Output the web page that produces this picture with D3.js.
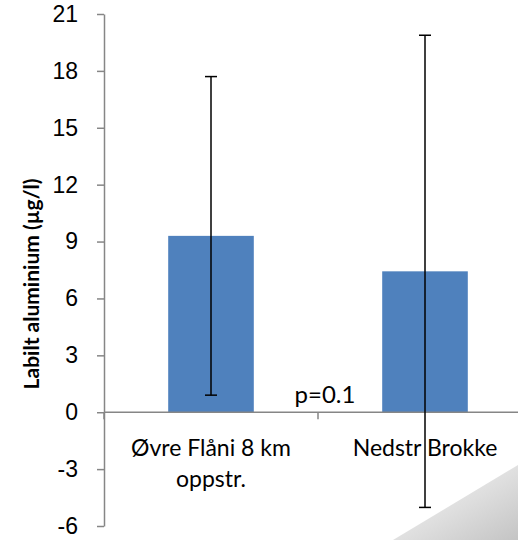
<!doctype html>
<html lang="no">
<head>
<meta charset="utf-8" />
<title>Labilt aluminium</title>
<script src="https://cdn.jsdelivr.net/npm/d3@7/dist/d3.min.js"></script>
<style>
	body { margin: 0; background: #fff; }
	svg { display: block; font-family: Lato, "Open Sans", sans-serif; }
</style>
</head>
<body>
<svg width="518" height="540"></svg>
<script>
	// data
	var categories = [["Øvre Flåni 8 km", "oppstr."], ["Nedstr Brokke"]];
	var means = [9.3, 7.43];
	var errors = [8.4, 12.45];
	var yTicks = [-6, -3, 0, 3, 6, 9, 12, 15, 18, 21];
	var yTitle = "Labilt aluminium (µg/l)";
	var pText = "p=0.1";

	var svg = d3.select("svg");
	var axisColor = "#868686";

	var x = d3.scaleBand()
		.domain(d3.range(categories.length))
		.range([104, 532])
		.padding(0);

	var y = d3.scaleLinear()
		.domain([-6, 21])
		.range([526, 14]);

	var barW = x.bandwidth() * 0.4;

	// page curl shadow, bottom right
	var defs = svg.append("defs");
	var grad = defs.append("linearGradient")
		.attr("id", "curl")
		.attr("x1", "0").attr("y1", "0")
		.attr("x2", "1").attr("y2", "1");
	grad.append("stop").attr("offset", "0").attr("stop-color", "#fafafa");
	grad.append("stop").attr("offset", "0.55").attr("stop-color", "#dedede");
	grad.append("stop").attr("offset", "1").attr("stop-color", "#c4c4c4");

	// bars
	svg.selectAll("rect.bar")
		.data(means)
		.enter().append("rect")
		.attr("class", "bar")
		.attr("x", function (d, i) { return x(i) + (x.bandwidth() - barW) / 2; })
		.attr("width", barW)
		.attr("y", function (d) { return y(Math.max(0, d)); })
		.attr("height", function (d) { return Math.abs(y(d) - y(0)); })
		.style("fill", "#4f81bd");

	// y axis
	var yAxis = d3.axisLeft(y)
		.tickValues(yTicks)
		.tickFormat(function (d) { return String(d); })
		.tickSize(7)
		.tickSizeOuter(0);
	var gy = svg.append("g")
		.attr("transform", "translate(" + x.range()[0] + ",0)")
		.call(yAxis);
	gy.select(".domain").attr("stroke", axisColor).attr("stroke-width", 1.5);
	gy.selectAll(".tick line").attr("stroke", axisColor).attr("stroke-width", 1.5);
	gy.selectAll(".tick text")
		.attr("x", -26)
		.style("font-size", "23px")
		.style("fill", "#000");

	// x axis at zero
	var gx = svg.append("g").attr("transform", "translate(0," + y(0) + ")");
	gx.append("line")
		.attr("x1", x.range()[0]).attr("x2", x.range()[1])
		.attr("stroke", axisColor).attr("stroke-width", 1.5);
	gx.selectAll("line.tk")
		.data(d3.range(categories.length + 1))
		.enter().append("line")
		.attr("class", "tk")
		.attr("x1", function (d) { return x.range()[0] + d * x.step(); })
		.attr("x2", function (d) { return x.range()[0] + d * x.step(); })
		.attr("y1", 0).attr("y2", 7)
		.attr("stroke", axisColor).attr("stroke-width", 1.5);

	// category labels
	categories.forEach(function (lines, i) {
		var t = svg.append("text")
			.attr("text-anchor", "middle")
			.style("font-size", "23px")
			.attr("x", x(i) + x.bandwidth() / 2)
			.attr("y", y(0) + 44);
		lines.forEach(function (s, j) {
			t.append("tspan")
				.attr("x", x(i) + x.bandwidth() / 2)
				.attr("dy", j === 0 ? 0 : 31)
				.text(s);
		});
	});

	// p label
	svg.append("text")
		.attr("x", x.range()[0] + x.step() + 7)
		.attr("y", y(0) - 9)
		.attr("text-anchor", "middle")
		.style("font-size", "24px")
		.text(pText);

	// error bars
	var eb = svg.selectAll("g.err")
		.data(means)
		.enter().append("g")
		.attr("class", "err")
		.attr("transform", function (d, i) { return "translate(" + (x(i) + x.bandwidth() / 2) + ",0)"; });
	eb.append("line")
		.attr("y1", function (d, i) { return y(d + errors[i]); })
		.attr("y2", function (d, i) { return y(d - errors[i]); })
		.attr("stroke", "#000").attr("stroke-width", 1.5);
	eb.selectAll("line.cap")
		.data(function (d, i) { return [d + errors[i], d - errors[i]]; })
		.enter().append("line")
		.attr("class", "cap")
		.attr("x1", -6).attr("x2", 6)
		.attr("y1", function (v) { return y(v); })
		.attr("y2", function (v) { return y(v); })
		.attr("stroke", "#000").attr("stroke-width", 1.5);

	// y title
	svg.append("text")
		.attr("transform", "translate(39,284) rotate(-90)")
		.attr("text-anchor", "middle")
		.style("font-size", "21px")
		.style("font-weight", "bold")
		.text(yTitle);

	// page curl
	svg.append("path")
		.attr("d", "M393,540 L518,465 L518,540 Z")
		.attr("fill", "url(#curl)");
</script>
</body>
</html>
